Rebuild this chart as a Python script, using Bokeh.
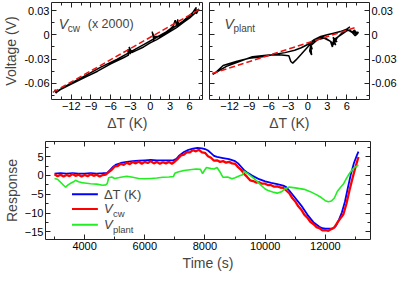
from bokeh.plotting import figure
from bokeh.layouts import column, row
from bokeh.models import (FixedTicker, SingleIntervalTicker, LinearAxis, Range1d,
                          Label, Arrow)
from bokeh.embed import file_html
from bokeh.resources import INLINE

# ---------------- data ----------------
# top-left: V_cw (x 2000) vs Delta T
cw_dt = [0.5, 0.3, 0.6, 0.4, 0.7, 0.5, 0.8,
         1.5, 2.2, 3.0, 3.5, 3.8, 4.0, 4.2, 4.1, 4.3, 4.0,
         5.0, 6.0, 6.5, 7.0, 6.8, 7.2, 7.0, 7.4, 7.1,
         6.0, 5.0, 4.0, 3.0, 2.0, 1.0, 0.0, -1.0, -2.0, -2.8, -3.2, -3.0, -3.4, -3.3,
         -4.0, -6.0, -8.0, -10.0, -12.0, -13.5, -14.2, -14.5, -14.3, -14.0,
         -12.5, -10.0, -7.5, -5.0, -3.0, -1.0, 1.0, 3.0, 5.0, 6.5]
cw_v = [-0.004, 0.004, -0.006, 0.001, -0.003, -0.007, -0.002,
        -0.002, 0.002, 0.007, 0.011, 0.018, 0.012, 0.019, 0.013, 0.016, 0.011,
        0.017, 0.024, 0.028, 0.034, 0.027, 0.031, 0.026, 0.032, 0.029,
        0.021, 0.015, 0.009, 0.004, -0.001, -0.006, -0.010, -0.015, -0.019, -0.022,
        -0.015, -0.024, -0.018, -0.025,
        -0.028, -0.036, -0.045, -0.053, -0.061, -0.067, -0.071, -0.068, -0.072, -0.069,
        -0.062, -0.051, -0.040, -0.030, -0.021, -0.012, -0.003, 0.006, 0.017, 0.026]
cw_fit_dt = [-14.8, 7.6]
cw_fit_v = [-0.0712, 0.0319]

# top-right: V_plant vs Delta T
pl_dt = [0.5, 0.3, 0.6, 0.4, 0.7, 0.5,
         1.5, 2.5, 3.5, 3.8, 4.0, 4.3, 3.9, 4.5, 4.2,
         5.5, 6.2, 6.8, 7.2, 7.6, 7.0, 7.8, 7.3,
         6.5, 5.5, 4.5, 4.0, 3.5, 2.5, 1.5, 0.8, 0.0, -1.0, -1.8, -2.3, -2.6, -2.9,
         -4.0, -6.0, -8.5, -10.5, -12.5, -14.0, -14.6,
         -14.2, -13.0, -11.0, -9.0, -7.0, -5.0, -3.5, -2.0, -1.0, 0.0, 1.0, 2.0,
         3.0, 4.0, 5.0, 6.0, 6.5]
pl_v = [-0.012, -0.020, -0.025, -0.010, -0.018, -0.013,
        -0.006, -0.004, -0.008, -0.015, -0.006, -0.013, -0.003, -0.009, -0.005,
        0.002, 0.006, 0.003, 0.006, 0.000, 0.004, 0.003, -0.001,
        0.006, 0.004, -0.004, -0.012, -0.008, -0.003, -0.004, -0.008, -0.015, -0.024,
        -0.031, -0.035, -0.033, -0.026,
        -0.025, -0.025, -0.027, -0.033, -0.039, -0.046, -0.049,
        -0.047, -0.038, -0.033, -0.029, -0.027, -0.024, -0.022, -0.019, -0.016, -0.012,
        -0.006, -0.002, 0.000, 0.002, 0.004, 0.007, 0.010]
pl_fit_dt = [-14.7, 7.2]
pl_fit_v = [-0.0479, 0.0087]

dt_ticks = [-12, -9, -6, -3, 0, 3, 6]
dt_minor = [-13.5, -10.5, -7.5, -4.5, -1.5, 1.5, 4.5, 7.5]
v_ticks = [-0.06, -0.03, 0.0, 0.03]
v_tick_labels = ["-0.06", "-0.03", "0", "0.03"]
v_minor = [-0.075, -0.045, -0.015, 0.015]

# bottom: responses vs time
dt_time = [3000, 3200, 3400, 3600, 3800, 4000, 4200, 4400, 4600, 4750, 4850, 4950,
           5050, 5200, 5400, 5600, 5800, 6000, 6200, 6400, 6600, 6800, 6950, 7050,
           7150, 7300, 7450, 7600, 7750, 7900, 8000, 8100, 8200, 8300, 8400, 8600,
           8800, 9000, 9100, 9200, 9300, 9400, 9500, 9600, 9800, 10000, 10200, 10400,
           10600, 10700, 10800, 11000, 11200, 11400, 11600, 11800, 11900, 12000,
           12250, 12350, 12450, 12550, 12650, 12750, 12850, 12950, 13050, 13100]
dt_resp = [0.5, 0.6, 0.5, 0.6, 0.5, 0.5, 0.6, 0.5, 0.6, 0.7, 1.5, 2.3,
           2.9, 3.3, 3.6, 3.8, 3.9, 4.0, 4.1, 4.0, 4.0, 4.0, 4.0, 4.4,
           5.3, 6.2, 6.8, 7.1, 7.3, 7.2, 7.0, 6.6, 5.9, 5.2, 4.9, 4.6,
           4.3, 3.8, 3.2, 2.3, 1.4, 0.8, 0.3, -0.2, -1.0, -1.6, -2.0, -2.3,
           -2.7, -3.1, -4.0, -6.0, -8.0, -10.4, -12.4, -13.6, -14.0, -14.1,
           -14.1, -13.4, -11.8, -9.8, -7.0, -3.2, 0.4, 3.3, 5.4, 6.3]

cw_time = [3000 + 100 * i for i in range(102)]
cw_resp = [0.3, -0.2, 0.2, -0.3, 0.1, -0.2, 0.4, -0.1, 0.2, -0.3,
           0.1, -0.2, 0.3, -0.1, 0.2, -0.3, 0.1, 0.2, 0.9, 1.5,
           2.4, 2.5, 3.1, 2.8, 3.4, 3.0, 3.6, 3.2, 3.7, 3.1,
           3.6, 3.3, 3.8, 3.2, 3.6, 3.1, 3.5, 3.2, 3.6, 3.1,
           3.7, 4.4, 5.3, 5.5, 6.2, 6.1, 6.7, 6.4, 6.8, 6.1,
           6.0, 5.1, 4.7, 3.9, 4.0, 3.6, 3.8, 3.4, 3.6, 3.2,
           3.1, 2.2, 1.5, 0.4, -0.4, -1.3, -1.5, -1.9, -1.8, -2.2,
           -2.2, -2.6, -2.6, -3.0, -2.9, -3.2, -3.3, -4.0, -4.7, -6.0,
           -6.9, -8.2, -9.1, -10.4, -11.2, -12.3, -12.9, -13.7, -14.0, -14.6,
           -14.5, -14.7, -14.2, -13.8, -12.5, -11.4, -10.3, -7.5, -4.0, -0.8,
           2.2, 4.9]

pl_time = [3000, 3100, 3200, 3300, 3370, 3450, 3550, 3650, 3700, 3800, 3900, 4000,
           4200, 4400, 4600, 4700, 4750, 4800, 4900, 5000, 5200, 5400, 5600, 5800,
           6000, 6200, 6400, 6600, 6800, 6950, 7000, 7100, 7300, 7500, 7700, 7850,
           7920, 7980, 8050, 8200, 8300, 8400, 8500, 8600, 8750, 8900, 9000, 9150,
           9250, 9300, 9400, 9550, 9700, 9850, 10000, 10100, 10250, 10400, 10550,
           10650, 10800, 11000, 11300, 11500, 11700, 11850, 12000, 12100, 12200,
           12300, 12400, 12500, 12600, 12700, 12800, 12900, 13000, 13100]
pl_resp = [-0.8, -1.0, -1.8, -2.6, -3.1, -2.5, -2.0, -1.6, -1.3, -1.7, -1.9, -2.0,
           -2.2, -2.3, -2.6, -2.5, -2.2, -0.6, -0.4, -0.8, -0.5, -0.2, -0.5, -0.8,
           -0.9, -0.8, -0.7, -0.5, -0.4, -0.3, 0.6, 0.9, 1.3, 1.5, 1.7, 1.6,
           0.5, 1.3, 2.1, 1.8, 1.7, 2.1, 0.9, -0.5, -0.4, -0.9, -0.6, -0.1,
           0.2, 1.1, 0.6, -0.3, -1.3, -2.5, -3.6, -4.0, -4.4, -4.7, -4.3,
           -3.6, -3.1, -3.3, -3.7, -4.3, -5.1, -5.8, -6.7, -7.0, -6.8,
           -6.0, -4.2, -3.2, -2.3, -0.8, 0.5, 1.6, 2.3, 2.7]

# ---------------- styling helpers ----------------
FONT = "Liberation Sans"
FRAME = "#222222"


def style_axis(ax, labels=True):
    ax.axis_line_color = None
    ax.major_tick_in = 5
    ax.major_tick_out = 0
    ax.minor_tick_in = 3
    ax.minor_tick_out = 0
    ax.major_tick_line_color = FRAME
    ax.minor_tick_line_color = FRAME
    ax.major_label_text_font = FONT
    ax.major_label_text_font_size = "11px"
    ax.major_label_text_color = "black" if labels else None
    ax.major_label_standoff = 2 if labels else 0
    ax.axis_label_text_font = FONT
    ax.axis_label_text_font_size = "14px"
    ax.axis_label_text_font_style = "normal"
    ax.axis_label_standoff = 2


def make_fig(width, height, xr, yr, xt, yt, left, right, top, bottom,
             ylabel_side, xlabel, ylabel):
    p = figure(width=width, height=height, output_backend="svg",
               toolbar_location=None, x_range=Range1d(*xr), y_range=Range1d(*yr),
               x_axis_location=None, y_axis_location=None,
               min_border_left=left, min_border_right=right,
               min_border_top=top, min_border_bottom=bottom)
    p.grid.visible = False
    p.outline_line_color = FRAME
    p.outline_line_width = 1
    p.background_fill_color = "white"
    p.border_fill_color = "white"
    xb = LinearAxis(ticker=xt, axis_label=xlabel)
    style_axis(xb)
    p.add_layout(xb, "below")
    xa = LinearAxis(ticker=xt)
    style_axis(xa, labels=False)
    p.add_layout(xa, "above")
    yl = LinearAxis(ticker=yt, axis_label=ylabel)
    ym = LinearAxis(ticker=yt)
    style_axis(yl)
    style_axis(ym, labels=False)
    if ylabel_side == "left":
        p.add_layout(yl, "left")
        p.add_layout(ym, "right")
    else:
        p.add_layout(yl, "right")
        p.add_layout(ym, "left")
    return p, yl


v_overrides = dict(zip(v_ticks, v_tick_labels))

TOP_H = 133
BOT_H = 140

# ---------------- top-left ----------------
p1, y1 = make_fig(203, TOP_H, (-15.0, 8.1), (-0.08, 0.04),
                  FixedTicker(ticks=dt_ticks, minor_ticks=dt_minor),
                  FixedTicker(ticks=v_ticks, minor_ticks=v_minor),
                  45, 0, 2, 25, "left", "\u0394T (K)", "Voltage (V)")
y1.major_label_overrides = v_overrides
p1.line(cw_dt, cw_v, line_color="black", line_width=1.5)
p1.line(cw_fit_dt, cw_fit_v, line_color="#ee1111", line_width=1.5, line_dash="6 3")
p1.add_layout(Label(x=-13.9, y=0.0132, text="V", text_font=FONT, text_font_size="14px",
                    text_font_style="italic", text_baseline="alphabetic"))
p1.add_layout(Label(x=-13.9, y=0.0132, x_offset=9, y_offset=-4, text="cw",
                    text_font=FONT, text_font_size="10px", text_baseline="alphabetic"))
p1.add_layout(Label(x=-13.9, y=0.0132, x_offset=29, text="(x 2000)", text_font=FONT,
                    text_font_size="12.5px", text_baseline="alphabetic"))

# ---------------- top-right ----------------
p2, y2 = make_fig(196, TOP_H, (-15.1, 9.5), (-0.08, 0.04),
                  FixedTicker(ticks=dt_ticks, minor_ticks=dt_minor),
                  FixedTicker(ticks=v_ticks, minor_ticks=v_minor),
                  6, 29, 2, 25, "right", "\u0394T (K)", None)
y2.major_label_overrides = v_overrides
p2.line(pl_dt, pl_v, line_color="black", line_width=1.5)
p2.line(pl_fit_dt, pl_fit_v, line_color="#ee1111", line_width=1.5, line_dash="6 3")
p2.add_layout(Label(x=-12.8, y=0.013, text="V", text_font=FONT, text_font_size="14px",
                    text_font_style="italic", text_baseline="alphabetic"))
p2.add_layout(Label(x=-12.8, y=0.013, x_offset=9, y_offset=-4, text="plant",
                    text_font=FONT, text_font_size="10px", text_baseline="alphabetic"))

# ---------------- bottom ----------------
p3, y3 = make_fig(399, BOT_H, (2700, 13500), (-17, 9),
                  SingleIntervalTicker(interval=2000, num_minor_ticks=2),
                  SingleIntervalTicker(interval=5, num_minor_ticks=2),
                  45, 29, 8, 25, "left", "Time (s)", "Response")
p3.line(dt_time, dt_resp, line_color="#0000ff", line_width=1.8)
p3.line(cw_time, cw_resp, line_color="#ff0000", line_width=2.3)
p3.line(pl_time, pl_resp, line_color="#22ee22", line_width=1.6)

legend_rows = [(-5.0, "#0000ff"), (-8.9, "#ff0000"), (-13.1, "#22ee22")]
for yy, col in legend_rows:
    p3.add_layout(Arrow(x_start=3580, y_start=yy, x_end=4440, y_end=yy, end=None,
                        line_color=col, line_width=2))
p3.add_layout(Label(x=4640, y=-5.0, text="\u0394T (K)", text_font=FONT,
                    text_font_size="13px", text_baseline="middle"))
p3.add_layout(Label(x=4640, y=-8.9, text="V", text_font=FONT, text_font_size="13px",
                    text_font_style="italic", text_baseline="middle"))
p3.add_layout(Label(x=4640, y=-8.9, x_offset=9, y_offset=-5, text="cw", text_font=FONT,
                    text_font_size="9.5px", text_baseline="middle"))
p3.add_layout(Label(x=4640, y=-13.1, text="V", text_font=FONT, text_font_size="13px",
                    text_font_style="italic", text_baseline="middle"))
p3.add_layout(Label(x=4640, y=-13.1, x_offset=9, y_offset=-5, text="plant",
                    text_font=FONT, text_font_size="9.5px", text_baseline="middle"))

layout = column(row(p1, p2), p3)
open("out.html", "w").write(file_html(layout, INLINE))
